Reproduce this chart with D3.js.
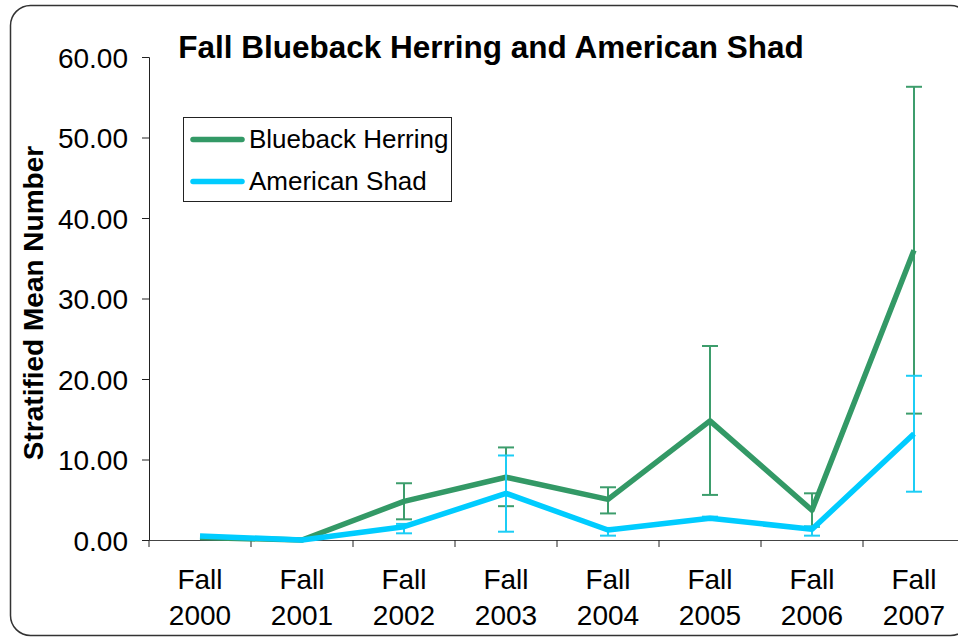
<!DOCTYPE html>
<html>
<head>
<meta charset="utf-8">
<script src="https://cdn.jsdelivr.net/npm/d3@7"></script>
<style>
  body { margin: 0; background: #fff; }
  text { font-family: "Liberation Sans", Arial, sans-serif; fill: #000; }
</style>
</head>
<body>
<div id="chart"></div>
<script>
// values
var years = ["2000", "2001", "2002", "2003", "2004", "2005", "2006", "2007"];
var blueback = [0.3, 0.0, 4.8, 7.8, 5.05, 14.8, 3.7, 36.0];
var bluebackLo = [null, null, 2.57, 4.2, 3.3, 5.6, 1.65, 15.7];
var bluebackHi = [null, null, 7.05, 11.5, 6.55, 24.1, 5.8, 56.3];
var shad = [0.5, 0.0, 1.65, 5.8, 1.24, 2.7, 1.33, 13.2];
var shadLo = [null, null, 0.83, 1.03, 0.54, 2.5, 0.54, 6.0];
var shadHi = [null, null, 2.0, 10.5, 1.5, 2.9, 1.7, 20.4];
var yTicks = [0, 10, 20, 30, 40, 50, 60];

var W = 958, H = 637;
var pLeft = 149, pTop = 57, pBottom = 540, pRight = 965;

var svg = d3.select("#chart").append("svg")
    .attr("width", W)
    .attr("height", H);

// outer rounded frame
svg.append("rect")
    .attr("x", 10.5).attr("y", 5.5)
    .attr("width", 960).attr("height", 630)
    .attr("rx", 20).attr("ry", 20)
    .attr("fill", "none")
    .attr("stroke", "#333")
    .attr("stroke-width", 1.5);

var x = d3.scaleBand().domain(years).range([pLeft, pRight]);
var y = d3.scaleLinear().domain([0, 60]).range([pBottom, pTop]);

// y axis
var yAxis = svg.append("g")
    .attr("transform", "translate(" + pLeft + ",0)")
    .call(d3.axisLeft(y).tickValues(yTicks).tickSize(7).tickPadding(14)
        .tickFormat(d3.format(".2f")));
yAxis.selectAll("text").style("font-size", "28px").attr("dy", "0.36em");
yAxis.selectAll("line, path").attr("stroke", "#222");

// x axis
var xAxis = svg.append("g")
    .attr("transform", "translate(0," + pBottom + ")")
    .call(d3.axisBottom(x).tickSize(0).tickFormat(""));
xAxis.select("path").attr("stroke", "#444").attr("stroke-width", 1.2);

// tick marks at band boundaries
svg.selectAll(".xt").data(years)
  .enter().append("line")
    .attr("x1", d => x(d)).attr("x2", d => x(d))
    .attr("y1", pBottom).attr("y2", pBottom + 7)
    .attr("stroke", "#222");

var xl = svg.selectAll(".xl").data(years)
  .enter().append("text")
    .attr("text-anchor", "middle")
    .style("font-size", "28px");
xl.append("tspan")
    .attr("x", d => x(d) + x.bandwidth() / 2).attr("y", 589)
    .text("Fall");
xl.append("tspan")
    .attr("x", d => x(d) + x.bandwidth() / 2).attr("y", 625)
    .text(d => d);

// y axis title
svg.append("text")
    .attr("transform", "translate(43,303) rotate(-90)")
    .attr("text-anchor", "middle")
    .style("font-size", "28px")
    .style("font-weight", "bold")
    .text("Stratified Mean Number");

// title
svg.append("text")
    .attr("x", 491).attr("y", 58)
    .attr("text-anchor", "middle")
    .style("font-size", "31.5px")
    .style("font-weight", "bold")
    .text("Fall Blueback Herring and American Shad");

var series = [
    { name: "Blueback Herring", color: "#339966", bar: "#3d9d6c", vals: blueback, lo: bluebackLo, hi: bluebackHi },
    { name: "American Shad", color: "#00ccff", bar: "#1ccdf5", vals: shad, lo: shadLo, hi: shadHi }
];

var cx = d => x(d) + x.bandwidth() / 2;
var line = d3.line()
    .x((d, i) => cx(years[i]))
    .y(d => y(d));

series.forEach(function (s) {
    // error bars
    var g = svg.append("g");
    var eb = years.map((yr, i) => ({ yr: yr, lo: s.lo[i], hi: s.hi[i] }))
        .filter(d => d.lo != null);
    g.selectAll(".v").data(eb).enter().append("line")
        .attr("x1", d => cx(d.yr)).attr("x2", d => cx(d.yr))
        .attr("y1", d => y(d.lo)).attr("y2", d => y(d.hi))
        .attr("stroke", s.bar).attr("stroke-width", 2);
    ["lo", "hi"].forEach(function (k) {
        g.selectAll(".c" + k).data(eb).enter().append("line")
            .attr("x1", d => cx(d.yr) - 8).attr("x2", d => cx(d.yr) + 8)
            .attr("y1", d => y(d[k])).attr("y2", d => y(d[k]))
            .attr("stroke", s.bar).attr("stroke-width", 2);
    });
    svg.append("path")
        .datum(s.vals)
        .attr("d", line)
        .attr("fill", "none")
        .attr("stroke", s.color)
        .attr("stroke-width", 5.5)
        .attr("stroke-linejoin", "round");
});

// legend
var lg = svg.append("g");
lg.append("rect")
    .attr("x", 183.5).attr("y", 117.5)
    .attr("width", 268).attr("height", 84)
    .attr("fill", "#fff")
    .attr("stroke", "#222");
series.forEach(function (s, i) {
    var ly = 139.5 + i * 42;
    lg.append("line")
        .attr("x1", 193).attr("x2", 242)
        .attr("y1", ly).attr("y2", ly)
        .attr("stroke", s.color)
        .attr("stroke-width", 5.5)
        .attr("stroke-linecap", "round");
    lg.append("text")
        .attr("x", 249).attr("y", ly + 8)
        .style("font-size", "26px")
        .text(s.name);
});
</script>
</body>
</html>
